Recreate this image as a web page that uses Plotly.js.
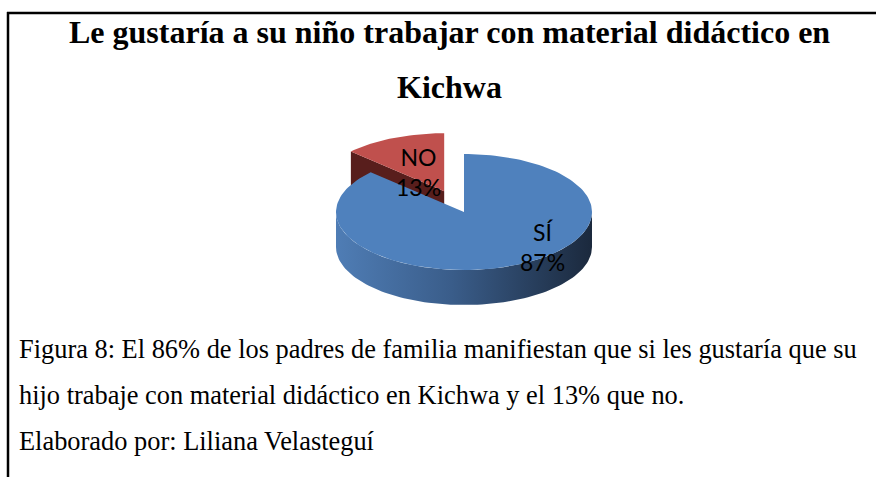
<!DOCTYPE html>
<html>
<head>
<meta charset="utf-8">
<script src="https://cdn.plot.ly/plotly-3.0.1.min.js"></script>
<style>html,body{margin:0;padding:0;background:#fff;}#chart{width:877px;height:477px;}</style>
</head>
<body>
<div id="chart"></div>
<script>
// ---- data ----
const categories = ['SÍ', 'NO'];
const values = [87, 13];
const titleLines = ['Le gustaría a su niño trabajar con material didáctico en', 'Kichwa'];
const captionLines = [
  'Figura 8: El 86% de los padres de familia manifiestan que si les gustaría que su',
  'hijo trabaje con material didáctico en Kichwa y el 13% que no.',
  'Elaborado por: Liliana Velasteguí'
];

// ---- styling / geometry ----
const W = 877, H = 477;
const pie = {cx: 464, cy: 212, rx: 128, ry: 58, depth: 35};
const pulls = [0, 0.39];
const topColors = ['#4F81BD', '#C0504D'];
const sideScales = [
  [[0, '#4f7db5'], [0.45, '#3a5d8a'], [1, '#1b293d']],
  [[0, '#5e211f'], [1, '#3f1413']]
];
const cutColors = ['#2d4668', '#581e1c'];
const labelPos = [[542, 247], [418, 172]];

const total = values.reduce((a, b) => a + b, 0);
const rad = d => d * Math.PI / 180;
function pt(a, ox, oy, dz) {
  return [pie.cx + ox + pie.rx * Math.cos(rad(a)), pie.cy + oy - pie.ry * Math.sin(rad(a)) + dz];
}
function arc(a0, a1, ox, oy, dz) {
  const n = Math.max(2, Math.ceil(Math.abs(a1 - a0) / 2));
  const out = [];
  for (let i = 0; i <= n; i++) out.push(pt(a0 + (a1 - a0) * i / n, ox, oy, dz));
  return out;
}
function poly(points, color, grad) {
  const tr = {
    type: 'scatter', mode: 'lines', x: points.map(p => p[0]), y: points.map(p => p[1]),
    fill: 'toself', fillcolor: color, line: {width: 0, color: color}, hoverinfo: 'skip', showlegend: false
  };
  if (grad) tr.fillgradient = {type: 'horizontal', colorscale: grad};
  return tr;
}

// slices start at 12 o'clock, going clockwise
let start = 90;
const slices = values.map((v, i) => {
  const sweep = 360 * v / total;
  const hi = start, lo = start - sweep;
  start = lo;
  const mid = (hi + lo) / 2;
  const ox = pulls[i] * pie.rx * Math.cos(rad(mid));
  const oy = -pulls[i] * pie.ry * Math.sin(rad(mid));
  return {i, lo, hi, mid, ox, oy};
});

const traces = [];
slices.slice().sort((a, b) => Math.sin(rad(b.mid)) - Math.sin(rad(a.mid))).forEach(s => {
  const c = [pie.cx + s.ox, pie.cy + s.oy];
  const cD = [c[0], c[1] + pie.depth];
  // radial cut faces
  [[s.hi, Math.cos(rad(s.hi)) < -1e-6], [s.lo, Math.cos(rad(s.lo)) > 1e-6]].forEach(([a, vis]) => {
    if (!vis) return;
    const p = pt(a, s.ox, s.oy, 0), pD = pt(a, s.ox, s.oy, pie.depth);
    traces.push(poly([c, p, pD, cD, c], cutColors[s.i]));
  });
  // outer rim (front half only)
  for (let k = -2; k <= 2; k++) {
    const f0 = -180 + 360 * k, f1 = 360 * k;
    const a0 = Math.max(s.lo, f0), a1 = Math.min(s.hi, f1);
    if (a1 - a0 > 0.01) {
      const topArc = arc(a0, a1, s.ox, s.oy, 0);
      const botArc = arc(a1, a0, s.ox, s.oy, pie.depth);
      const pts = topArc.concat(botArc);
      pts.push(topArc[0]);
      traces.push(poly(pts, topColors[s.i], sideScales[s.i]));
    }
  }
  // top face
  const topPts = [c].concat(arc(s.hi, s.lo, s.ox, s.oy, 0));
  topPts.push(c);
  traces.push(poly(topPts, topColors[s.i]));
});

const annotations = [];
slices.forEach(s => {
  annotations.push({
    x: labelPos[s.i][0], y: labelPos[s.i][1], xref: 'x', yref: 'y', showarrow: false,
    text: categories[s.i] + '<br>' + Math.round(values[s.i] / total * 100) + '%',
    font: {family: 'Lato, "Open Sans", sans-serif', size: 23, color: '#000'},
    xanchor: 'center', yanchor: 'middle'
  });
});
const titleY = [32, 87];
titleLines.forEach((t, k) => annotations.push({
  x: 449, y: titleY[k], xref: 'x', yref: 'y', showarrow: false, text: '<b>' + t + '</b>',
  font: {family: '"Liberation Serif", "Times New Roman", serif', size: 32, color: '#000'},
  xanchor: 'center', yanchor: 'middle'
}));
const capY = [349, 395, 441];
captionLines.forEach((t, k) => annotations.push({
  x: 17, y: capY[k], xref: 'x', yref: 'y', showarrow: false, text: t,
  font: {family: '"Liberation Serif", "Times New Roman", serif', size: 26.4, color: '#000'},
  xanchor: 'left', yanchor: 'middle'
}));

const layout = {
  width: W, height: H, margin: {l: 0, r: 0, t: 0, b: 0},
  paper_bgcolor: '#fff', plot_bgcolor: '#fff', showlegend: false,
  xaxis: {range: [0, W], visible: false, fixedrange: true},
  yaxis: {range: [H, 0], visible: false, fixedrange: true},
  shapes: [
    {type: 'line', xref: 'x', yref: 'y', x0: 7, x1: 876, y0: 13, y1: 13, line: {color: '#000', width: 2.5}},
    {type: 'line', xref: 'x', yref: 'y', x0: 8, x1: 8, y0: 12, y1: 477, line: {color: '#000', width: 2.5}}
  ],
  annotations: annotations
};
Plotly.newPlot('chart', traces, layout, {staticPlot: true, displayModeBar: false});
</script>
</body>
</html>
